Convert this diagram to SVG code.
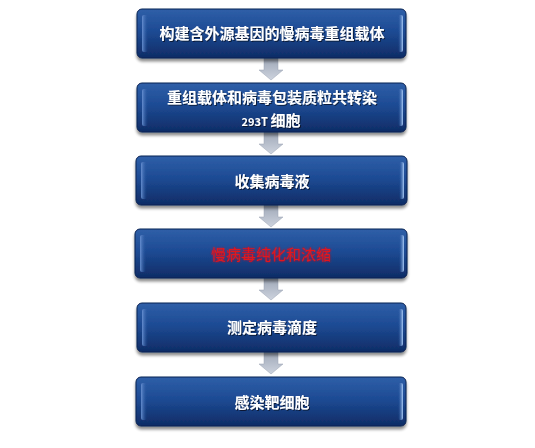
<svg xmlns="http://www.w3.org/2000/svg" width="535" height="448" viewBox="0 0 535 448">
<defs>
<linearGradient id="bx" x1="0" y1="0" x2="0" y2="1">
<stop offset="0" stop-color="#2f5fa8"/>
<stop offset="0.45" stop-color="#1d4b94"/>
<stop offset="1" stop-color="#0f2c66"/>
</linearGradient>
<linearGradient id="lb" x1="0" y1="0" x2="1" y2="0">
<stop offset="0" stop-color="#6d95d6" stop-opacity="0.9"/>
<stop offset="1" stop-color="#2a5aa3" stop-opacity="0"/>
</linearGradient>
<linearGradient id="rb" x1="0" y1="0" x2="1" y2="0">
<stop offset="0" stop-color="#2a5aa3" stop-opacity="0"/>
<stop offset="1" stop-color="#a9cbf7"/>
</linearGradient>
<linearGradient id="ar" x1="0" y1="0" x2="0" y2="1">
<stop offset="0" stop-color="#9ea7b7"/>
<stop offset="1" stop-color="#cdd3de"/>
</linearGradient>
<filter id="sh" x="-10%" y="-20%" width="120%" height="150%">
<feGaussianBlur in="SourceAlpha" stdDeviation="1.6"/>
<feOffset dx="0" dy="2.5"/>
<feComponentTransfer><feFuncA type="linear" slope="0.45"/></feComponentTransfer>
<feMerge><feMergeNode/><feMergeNode in="SourceGraphic"/></feMerge>
</filter>
<filter id="ts" x="-10%" y="-30%" width="120%" height="160%">
<feGaussianBlur in="SourceAlpha" stdDeviation="0.6"/>
<feOffset dx="1" dy="1"/>
<feComponentTransfer><feFuncA type="linear" slope="0.6"/></feComponentTransfer>
<feMerge><feMergeNode/><feMergeNode in="SourceGraphic"/></feMerge>
</filter>
<filter id="glow" x="-10%" y="-30%" width="120%" height="160%">
<feGaussianBlur in="SourceGraphic" stdDeviation="0.8" result="b"/>
<feMerge><feMergeNode in="b"/><feMergeNode in="SourceGraphic"/></feMerge>
</filter>
</defs>
<style>
.box{fill:url(#bx);stroke:#0b2352;stroke-width:1}
.lb{fill:url(#lb)}
.rb{fill:url(#rb)}
.t{font-family:"Noto Sans CJK SC","Liberation Sans",sans-serif;font-size:15px;font-weight:bold;fill:#ffffff;text-anchor:middle}
.red{fill:#e3141c;font-weight:normal}
.arrow{fill:url(#ar);stroke:#9aa3b3;stroke-width:0.5}
</style>
<rect width="535" height="448" fill="#ffffff"/>
<g id="connectors">
<path class="arrow" d="M264,58 H278 V70 H283 L271,80 L259,70 H264 Z"/>
<path class="arrow" d="M264,132 H278 V144 H283 L271,154 L259,144 H264 Z"/>
<path class="arrow" d="M264,205 H278 V217 H283 L271,227 L259,217 H264 Z"/>
<path class="arrow" d="M264,278 H278 V290 H283 L271,300 L259,290 H264 Z"/>
<path class="arrow" d="M264,352 H278 V364 H283 L271,374 L259,364 H264 Z"/>
</g>
<g id="n1" filter="url(#sh)">
<rect class="box" x="137" y="9" width="269" height="49" rx="5"/>
<rect class="lb" x="142" y="15" width="6" height="37" rx="2"/>
<rect class="rb" x="398" y="15" width="5" height="37" rx="2"/>
<text class="t" x="272" y="39" filter="url(#ts)">构建含外源基因的慢病毒重组载体</text>
</g>
<g id="n2" filter="url(#sh)">
<rect class="box" x="137" y="83" width="269" height="49" rx="5"/>
<rect class="lb" x="142" y="89" width="6" height="37" rx="2"/>
<rect class="rb" x="398" y="89" width="5" height="37" rx="2"/>
<text class="t" x="272" y="103" filter="url(#ts)">重组载体和病毒包装质粒共转染</text>
<text class="t" x="271" y="126" filter="url(#ts)"><tspan font-size="11">293T </tspan>细胞</text>
</g>
<g id="n3" filter="url(#sh)">
<rect class="box" x="136" y="156" width="271" height="49" rx="5"/>
<rect class="lb" x="141" y="162" width="6" height="37" rx="2"/>
<rect class="rb" x="399" y="162" width="5" height="37" rx="2"/>
<text class="t" x="272" y="187" filter="url(#ts)">收集病毒液</text>
</g>
<g id="n4" filter="url(#sh)">
<rect class="box" x="135" y="229" width="272" height="49" rx="5"/>
<rect class="lb" x="140" y="235" width="6" height="37" rx="2"/>
<rect class="rb" x="399" y="235" width="5" height="37" rx="2"/>
<text class="t red" x="271" y="260" filter="url(#glow)">慢病毒纯化和浓缩</text>
</g>
<g id="n5" filter="url(#sh)">
<rect class="box" x="137" y="303" width="269" height="49" rx="5"/>
<rect class="lb" x="142" y="309" width="6" height="37" rx="2"/>
<rect class="rb" x="398" y="309" width="5" height="37" rx="2"/>
<text class="t" x="272" y="333" filter="url(#ts)">测定病毒滴度</text>
</g>
<g id="n6" filter="url(#sh)">
<rect class="box" x="136" y="377" width="270" height="49" rx="5"/>
<rect class="lb" x="141" y="383" width="6" height="37" rx="2"/>
<rect class="rb" x="398" y="383" width="5" height="37" rx="2"/>
<text class="t" x="272" y="408" filter="url(#ts)">感染靶细胞</text>
</g>
</svg>
